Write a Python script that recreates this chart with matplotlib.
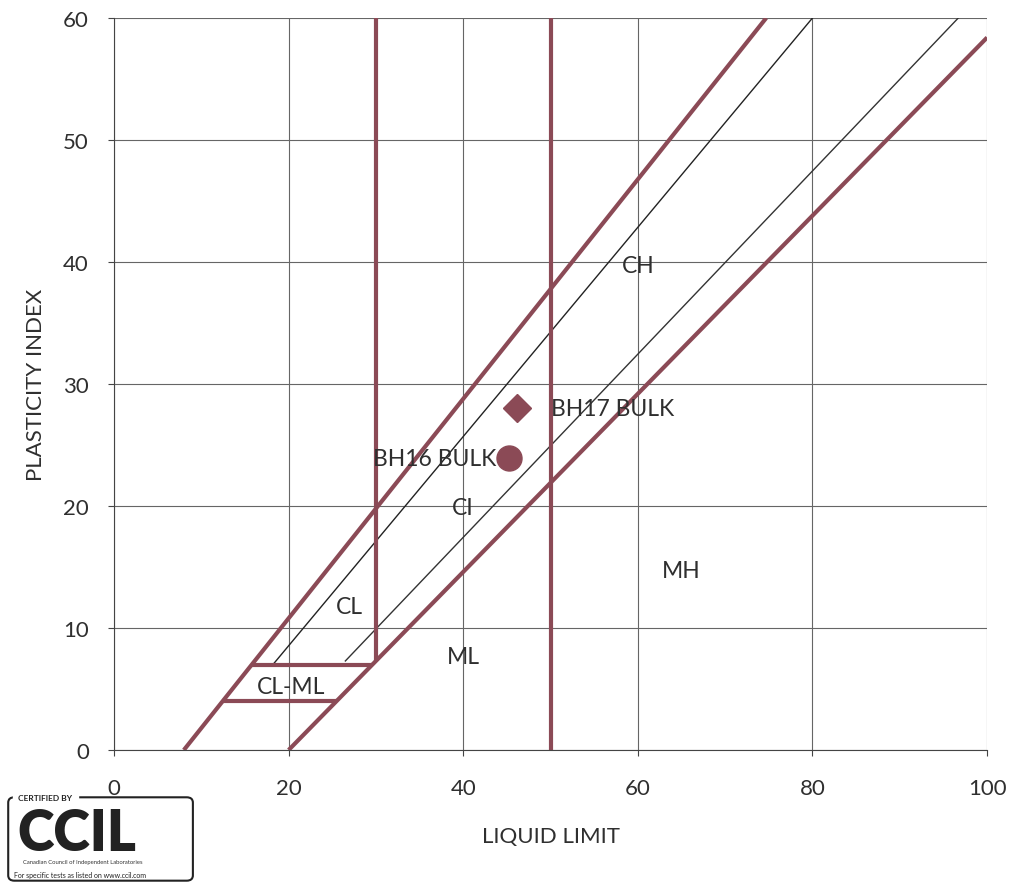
import numpy as np
import matplotlib.pyplot as plt
from matplotlib.patches import FancyBboxPatch

plt.rcParams['font.family'] = ['Lato', 'DejaVu Sans']

# boundary lines of the plasticity chart (liquid limit, plasticity index)
u_line_ll = [8, 74.7]
u_line_pi = [0, 60]
a_line_ll = [20, 100]
a_line_pi = [0, 58.4]
ll30_ll = [30, 30]
ll30_pi = [7.3, 60]
ll50_ll = [50, 50]
ll50_pi = [0, 60]
clml_top_ll = [15.8, 29.6]
clml_top_pi = [7, 7]
clml_bot_ll = [12.4, 25.5]
clml_bot_pi = [4, 4]

# thin guide lines
thin1_ll = [18.2, 80.0]
thin1_pi = [7.0, 60]
thin2_ll = [26.5, 96.7]
thin2_pi = [7.3, 60]

# samples
bh17_ll, bh17_pi = 46.2, 28.0
bh16_ll, bh16_pi = 45.2, 23.9

# zone labels
zone_names = ['CH', 'CI', 'MH', 'CL', 'ML', 'CL-ML']
zone_ll = [60, 40, 65, 27, 40, 20.3]
zone_pi = [39.7, 19.9, 14.7, 11.8, 7.7, 5.2]

maroon = '#8b4a56'
text_col = '#2f2f2f'

fig = plt.figure(figsize=(10.26, 8.87), dpi=100)
ax = fig.add_axes([0.1111, 0.1533, 0.851, 0.8253])

ax.set_xlim(0, 100)
ax.set_ylim(0, 60)
ax.set_xticks(np.arange(0, 101, 20))
ax.set_yticks(np.arange(0, 61, 10))
ax.grid(True, color='#666666', linewidth=0.8)
ax.set_axisbelow(True)
for side in ['top', 'right']:
    ax.spines[side].set_visible(False)
ax.spines['left'].set_color('#444444')
ax.spines['bottom'].set_color('#444444')
ax.tick_params(length=4, color='#444444', labelsize=16, labelcolor=text_col)
ax.tick_params(axis='x', pad=16)
ax.tick_params(axis='y', pad=14)

# thin lines
ax.plot(thin1_ll, thin1_pi, color='#222222', linewidth=1.0)
ax.plot(thin2_ll, thin2_pi, color='#333333', linewidth=1.0)

# thick boundaries
for xs, ys in [(u_line_ll, u_line_pi), (a_line_ll, a_line_pi), (ll30_ll, ll30_pi),
               (ll50_ll, ll50_pi), (clml_top_ll, clml_top_pi), (clml_bot_ll, clml_bot_pi)]:
    ax.plot(xs, ys, color=maroon, linewidth=3.0, solid_capstyle='butt')

# samples
ax.plot(bh17_ll, bh17_pi, marker='D', markersize=14, color=maroon, linestyle='none')
ax.plot(bh16_ll, bh16_pi, marker='o', markersize=18, color=maroon, linestyle='none')
ax.text(bh17_ll + 3.8, bh17_pi, 'BH17 BULK', fontsize=16.5, color=text_col,
        va='center', ha='left')
ax.text(bh16_ll - 1.4, bh16_pi, 'BH16 BULK', fontsize=16.5, color=text_col,
        va='center', ha='right')

for name, x, y in zip(zone_names, zone_ll, zone_pi):
    ax.text(x, y, name, fontsize=16.5, color=text_col, ha='center', va='center')

ax.set_xlabel('LIQUID LIMIT', fontsize=16, color=text_col, labelpad=20)
ax.set_ylabel('PLASTICITY INDEX', fontsize=16, color=text_col, labelpad=12)

# certification logo
box = FancyBboxPatch((0.008, 0.006), 0.18, 0.094, boxstyle='round,pad=0,rounding_size=0.006',
                     transform=fig.transFigure, fill=False, edgecolor='#222222', linewidth=1.5)
fig.patches.append(box)
fig.text(0.018, 0.1, 'CERTIFIED BY', fontsize=6, fontweight='bold', color='#222222',
         va='center', backgroundcolor='white')
fig.text(0.017, 0.06, 'CCIL', fontsize=40, fontweight='heavy', color='#222222', va='center')
fig.text(0.022, 0.028, 'Canadian Council of Independent Laboratories', fontsize=4.2,
         color='#333333', va='center')
fig.text(0.014, 0.013, 'For specific tests as listed on www.ccil.com', fontsize=5,
         color='#222222', va='center')

fig.savefig('out.png', dpi=100)
